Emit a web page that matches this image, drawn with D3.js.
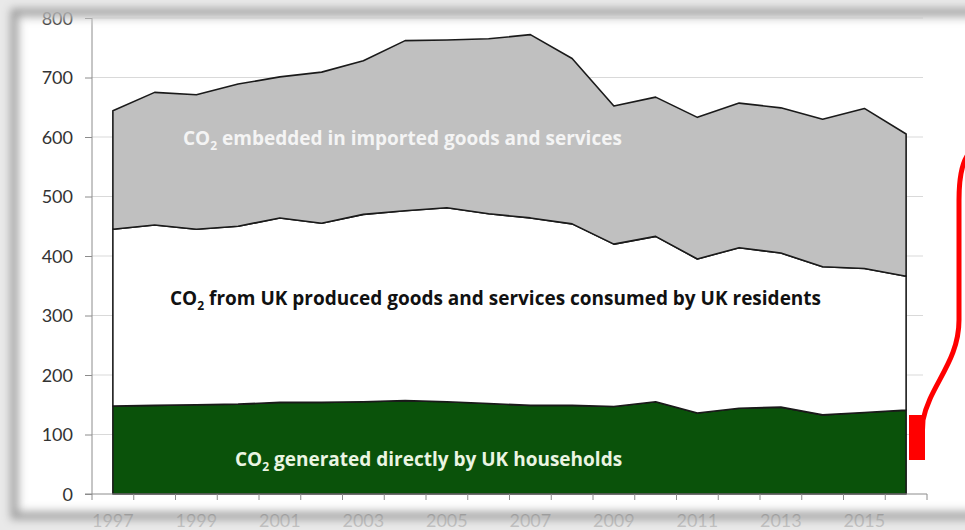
<!DOCTYPE html>
<html>
<head>
<meta charset="utf-8">
<script src="https://cdn.jsdelivr.net/npm/d3@7"></script>
<style>
  html, body { margin: 0; padding: 0; background: #fff; }
  svg { display: block; font-family: Lato, "Open Sans", sans-serif; }
</style>
</head>
<body>
<svg id="chart" width="965" height="530"></svg>
<script>
// UK consumption emissions, MtCO2, by source
const years = ["1997","1998","1999","2000","2001","2002","2003","2004","2005","2006",
               "2007","2008","2009","2010","2011","2012","2013","2014","2015","2016"];
const households = [148,149,150,151,154,154,155,157,155,152,149,149,147,155,136,144,146,133,137,141];
const ukProduced = [297,303,295,299,310,301,315,319,326,319,315,305,273,278,259,270,259,249,242,225];
const imported   = [199,223,226,239,237,254,258,286,282,294,308,278,232,234,238,243,244,248,269,239];
const yTicks = [0,100,200,300,400,500,600,700,800];
const xTickLabels = ["1997","1999","2001","2003","2005","2007","2009","2011","2013","2015"];

const rows = years.map((yr, i) => ({
  year: yr, households: households[i], ukProduced: ukProduced[i], imported: imported[i]
}));
const keys = ["households", "ukProduced", "imported"];
const fills = { households: "#0a520a", ukProduced: "#ffffff", imported: "#c0c0c0" };

const svg = d3.select("#chart");
const plotL = 92, plotR = 927, plotT = 18, plotB = 494;

const x = d3.scaleBand().domain(years).range([plotL, plotR]).paddingInner(0).paddingOuter(0);
const cx = d => x(d) + x.bandwidth() / 2;
const y = d3.scaleLinear().domain([0, 800]).range([plotB, plotT]);

// gridlines
svg.append("g")
  .selectAll("line").data(yTicks.filter(v => v > 0)).join("line")
  .attr("x1", plotL).attr("x2", plotR - 4)
  .attr("y1", d => y(d)).attr("y2", d => y(d))
  .attr("stroke", "#d9d9d9").attr("stroke-width", 1);

// stacked areas
const series = d3.stack().keys(keys)(rows);
const area = d3.area()
  .x(d => cx(d.data.year))
  .y0(d => y(d[0]))
  .y1(d => y(d[1]));

svg.append("g").selectAll("path").data(series).join("path")
  .attr("d", area)
  .attr("fill", d => fills[d.key])
  .attr("stroke", "#1a1a1a")
  .attr("stroke-width", 1.6)
  .attr("stroke-linejoin", "round");

// axes
const yAxis = d3.axisLeft(y).tickValues(yTicks).tickSize(7).tickPadding(12);
const gy = svg.append("g").attr("transform", `translate(${plotL},0)`).call(yAxis);
gy.select(".domain").attr("stroke", "#8c8c8c").attr("d", `M-7,${plotB}H0V${plotT}`);
gy.selectAll(".tick line").attr("stroke", "#8c8c8c");
gy.selectAll(".tick text").style("font-size", "18px").style("font-family", "Lato, sans-serif")
  .attr("fill", "#333333").attr("dy", "0.34em");

// x axis: ticks sit on category boundaries, labels on every other category centre
const gx = svg.append("g").attr("transform", `translate(0,${plotB})`);
gx.append("line").attr("x1", plotL).attr("x2", plotR).attr("y1", 0).attr("y2", 0)
  .attr("stroke", "#8c8c8c");
const bounds = years.map(v => x(v)).concat([plotR]);
gx.selectAll("line.tk").data(bounds).join("line").attr("class", "tk")
  .attr("x1", d => d).attr("x2", d => d).attr("y1", 0).attr("y2", 6)
  .attr("stroke", "#8c8c8c");
gx.selectAll("text").data(xTickLabels).join("text")
  .attr("x", d => cx(d)).attr("y", 33)
  .attr("text-anchor", "middle").style("font-size", "18px").attr("fill", "#3a3a3a")
  .text(d => d);

// in-chart labels with subscript 2
function co2Label(px, py, rest, color) {
  const t = svg.append("text").attr("x", px).attr("y", py)
    .style("font-family", "'Open Sans', sans-serif")
    .style("font-weight", 700).style("font-size", "19px").attr("fill", color);
  t.append("tspan").text("CO");
  t.append("tspan").style("font-size", "12px").attr("dy", 4.5).text("2");
  t.append("tspan").attr("dy", -4.5).text(" " + rest);
  return t;
}
co2Label(183, 145, "embedded in imported goods and services", "#f4f4f4");
co2Label(170, 305, "from UK produced goods and services consumed by UK residents", "#111111");
co2Label(235, 466, "generated directly by UK households", "#eaf5e2");

// red bracket annotation
svg.append("path")
  .attr("d", "M967,156 C961,166 959,180 959,200 L959,320 C959,362 930,385 923,420 L922,440")
  .attr("fill", "none").attr("stroke", "#ff0000").attr("stroke-width", 5);
svg.append("rect").attr("x", 909).attr("y", 415).attr("width", 16).attr("height", 45)
  .attr("fill", "#ff0000");

// soft frame shadow around the figure
const defs = svg.append("defs");
defs.append("filter").attr("id", "soft").attr("x", "-5%").attr("y", "-5%")
  .attr("width", "110%").attr("height", "110%")
  .append("feGaussianBlur").attr("stdDeviation", 4);
const frame = svg.append("g").attr("filter", "url(#soft)").attr("pointer-events", "none");
frame.append("path")
  .attr("d", "M-20,-20H990V550H-20Z M21,20V509H990V20Z")
  .attr("fill-rule", "evenodd").attr("fill", "#e4e4e4").attr("opacity", 0.8);
frame.append("rect").attr("x", 14).attr("y", 12).attr("width", 1000).attr("height", 504)
  .attr("fill", "none").attr("stroke", "#888888").attr("stroke-width", 7).attr("opacity", 0.85);
</script>
</body>
</html>
